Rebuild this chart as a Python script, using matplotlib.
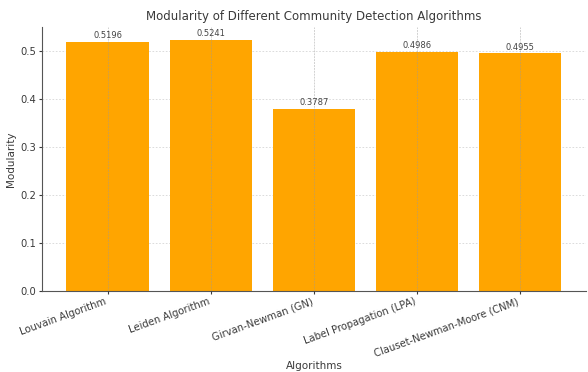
import matplotlib
matplotlib.use("Agg")
import matplotlib.pyplot as plt

algorithms = ["Louvain Algorithm", "Leiden Algorithm", "Girvan-Newman (GN)",
              "Label Propagation (LPA)", "Clauset-Newman-Moore (CNM)"]
modularity = [0.5196, 0.5241, 0.3787, 0.4986, 0.4955]

text_color = "#3a3a3a"
plt.rcParams.update({
    "font.family": "DejaVu Sans",
    "text.color": text_color,
    "axes.labelcolor": text_color,
    "xtick.color": text_color,
    "ytick.color": text_color,
    "axes.edgecolor": "#555555",
})

fig = plt.figure(figsize=(5.88, 3.72), dpi=100)
ax = fig.add_axes([0.071, 0.218, 0.926, 0.709])

bars = ax.bar(algorithms, modularity, color="orange", width=0.8, zorder=2)
for b, v in zip(bars, modularity):
    ax.text(b.get_x() + b.get_width() / 2, v + 0.004, f"{v:.4f}",
            ha="center", va="bottom", fontsize=6, color="#444444", zorder=4)

ax.set_ylim(0, 0.5503)
ax.set_yticks([0.0, 0.1, 0.2, 0.3, 0.4, 0.5])
ax.tick_params(axis="both", labelsize=7.2, length=2.5, pad=1.5)
plt.setp(ax.get_xticklabels(), rotation=20, ha="right")

# horizontal grid sits behind the bars, vertical grid is drawn over them
ax.grid(True, axis="y", linestyle=(0, (2, 2)), color="#bbbbbb", alpha=0.6,
        linewidth=0.6)
ax.grid(True, axis="x", linestyle=(0, (2, 1)), color="#999999", alpha=0.45,
        linewidth=0.7)
ax.yaxis.set_zorder(0.5)
ax.xaxis.set_zorder(3)
for sp in ("top", "right"):
    ax.spines[sp].set_visible(False)

ax.set_title("Modularity of Different Community Detection Algorithms",
             fontsize=8.5, pad=5)
ax.set_xlabel("Algorithms", fontsize=7.5, labelpad=2)
ax.set_ylabel("Modularity", fontsize=7.5, labelpad=3)

fig.savefig("out.png", dpi=100, facecolor="white")
